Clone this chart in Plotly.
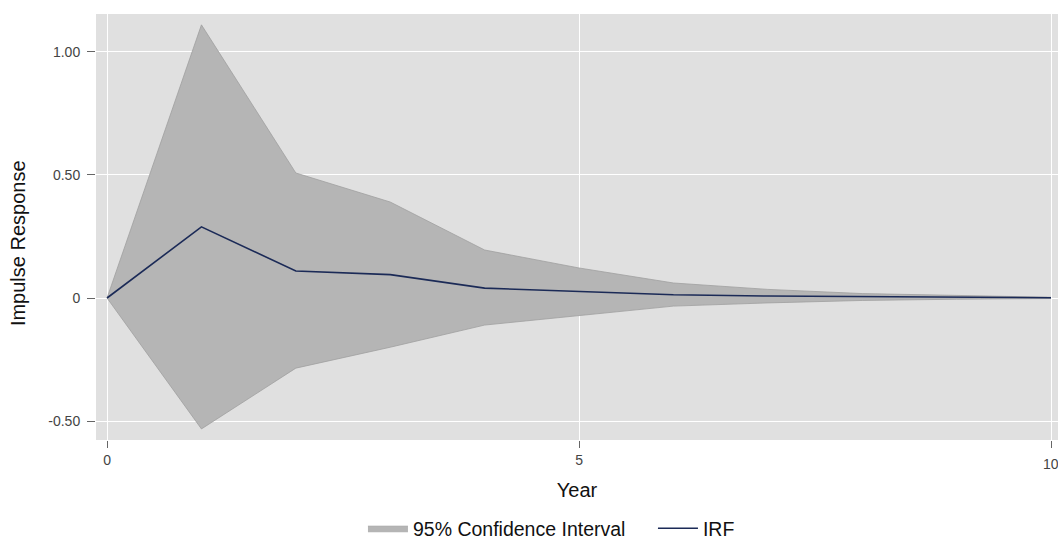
import plotly.graph_objects as go

years = [0, 1, 2, 3, 4, 5, 6, 7, 8, 9, 10]
ci_upper = [0.0, 1.11, 0.508, 0.39, 0.195, 0.122, 0.061, 0.035, 0.018, 0.01, 0.003]
ci_lower = [0.0, -0.532, -0.285, -0.2, -0.11, -0.07, -0.033, -0.02, -0.01, -0.005, -0.002]
irf = [0.0, 0.289, 0.11, 0.095, 0.04, 0.025, 0.013, 0.008, 0.005, 0.003, 0.001]

y_tickvals = [-0.5, 0, 0.5, 1.0]
y_ticktext = ["-0.50", "0", "0.50", "1.00"]
x_tickvals = [0, 5, 10]
x_ticktext = ["0", "5", "10"]

fig = go.Figure()
fig.add_trace(go.Scatter(x=years, y=ci_lower, mode="lines",
                         line=dict(color="#a0a0a0", width=0.8),
                         showlegend=False, hoverinfo="skip"))
fig.add_trace(go.Scatter(x=years, y=ci_upper, mode="lines", fill="tonexty",
                         fillcolor="#b5b5b5", line=dict(color="#a0a0a0", width=0.8),
                         name="95% Confidence Interval", legendrank=1))
fig.add_trace(go.Scatter(x=years, y=irf, mode="lines",
                         line=dict(color="#1b2a57", width=1.6), name="IRF", legendrank=2))

# y-axis title (placed as in the original, slightly below the plot centre)
fig.add_annotation(x=-0.081, y=0.4624, xref="paper", yref="paper", text="Impulse Response",
                   textangle=-90, showarrow=False, xanchor="center", yanchor="middle",
                   font=dict(size=20, color="#111111"))
# label of the last x tick, partly cut by the right edge as in the original
fig.add_annotation(x=x_tickvals[-1], y=0, xref="x", yref="paper", yshift=-14,
                   text=x_ticktext[-1], showarrow=False, xanchor="center", yanchor="top",
                   font=dict(size=14, color="#444444"))

fig.update_layout(
    width=1058, height=539,
    margin=dict(l=96, r=0, t=14, b=99, autoexpand=False),
    paper_bgcolor="white", plot_bgcolor="#e0e0e0",
    font=dict(family="Liberation Sans, Arial, sans-serif", color="#222222"),
    legend=dict(orientation="h", x=0.2775, xanchor="left", y=-0.162, yanchor="top",
                font=dict(size=19.5, color="#111111"), itemwidth=40,
                entrywidth=235, traceorder="normal"),
    xaxis=dict(range=[-0.117, 10.074], tickvals=x_tickvals, ticktext=x_ticktext,
               showgrid=True, gridcolor="white", gridwidth=1.2, zeroline=False,
               ticks="outside", ticklen=7, tickcolor="#666666", automargin=False,
               tickfont=dict(size=14, color="#444444"),
               title=dict(text="Year", font=dict(size=20, color="#111111"), standoff=16)),
    yaxis=dict(range=[-0.577, 1.154], tickvals=y_tickvals, ticktext=y_ticktext,
               showgrid=True, gridcolor="white", gridwidth=1.2, zeroline=False,
               ticks="outside", ticklen=8, tickcolor="#666666", automargin=False,
               ticklabelstandoff=4,
               tickfont=dict(size=14, color="#444444")),
)

fig.write_html("out.html",
               config={"displayModeBar": False},
               post_script="document.body.style.margin='0';"
                           "document.documentElement.style.overflow='hidden';"
                           "document.body.style.overflow='hidden';")
